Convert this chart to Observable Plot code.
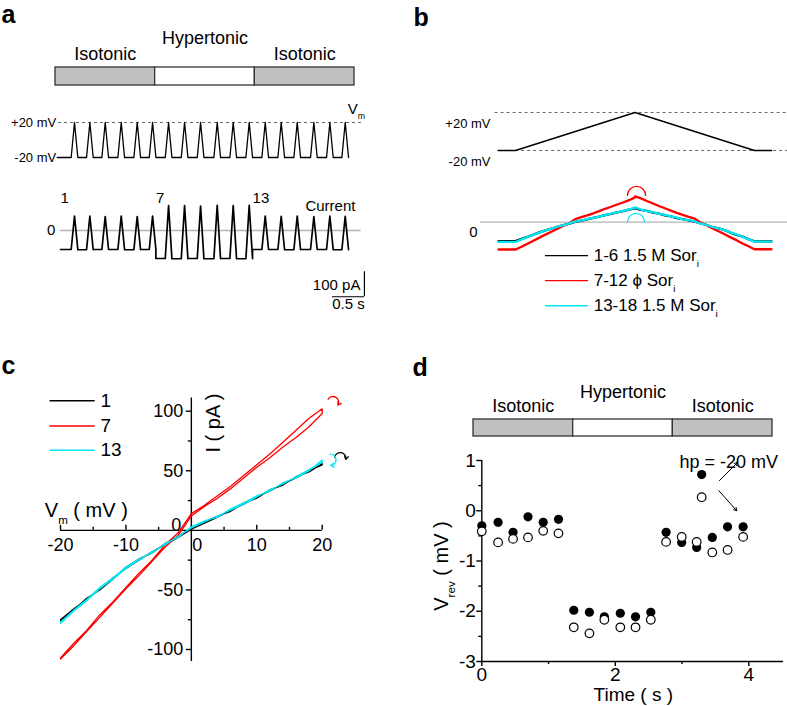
<!DOCTYPE html>
<html><head><meta charset="utf-8">
<script src="https://cdn.jsdelivr.net/npm/d3@7"></script>
<script src="https://cdn.jsdelivr.net/npm/@observablehq/plot@0.6"></script>
<style>
html,body{margin:0;padding:0;background:#fff;}
#fig{position:relative;width:787px;height:706px;overflow:hidden;}
#fig svg{position:absolute;left:0;top:0;}
</style></head><body><div id="fig"></div>
<script>
// ================= DATA =================
const protocolSegments = ["Isotonic", "Hypertonic", "Isotonic"];
const protocolFills = ["#c0c0c0", "#ffffff", "#c0c0c0"];

// panel a: 18 sweeps (peak times in s)
const sweepNumbers = [1,2,3,4,5,6,7,8,9,10,11,12,13,14,15,16,17,18];
const sweepPeakTimes = [0, 0.24, 0.48, 0.73, 0.98, 1.22, 1.47, 1.72, 1.97, 2.23, 2.48, 2.73, 2.98, 3.23, 3.48, 3.74, 3.99, 4.23];
const sweepBaseCurrent = [-76, -77, -76, -76, -77, -76, -112, -113, -112, -113, -112, -113, -76, -76, -77, -76, -76, -77];
const sweepPeakCurrent = [58, 58, 56, 58, 56, 58, 100, 100, 98, 101, 100, 101, 58, 57, 58, 56, 58, 57];
const labeledSweeps = [1, 7, 13];
const pulseHalfWidth = 0.052;   // s
const vmTraceStart = -0.27, currentTraceStart = -0.22;  // s
const scaleBarCurrent = 100, scaleBarTime = 0.5;

// panel b: ramp protocol
const rampTimes = [0, 10, 80, 150, 160];      // ms
const rampVoltages = [-20, -20, 20, -20, -20]; // mV

// panel c: I-V curves (pA) at these voltages, up-ramp and down-ramp branches
const ivVoltages = [-20, -18, -16, -14, -12, -10, -8, -6, -4, -2, 0, 2, 4, 6, 8, 10, 12, 14, 16, 18, 20];
const iv1Up    = [-75, -66, -58, -49, -40, -32, -25, -18, -12, -6, 1, 6, 11, 17, 22, 28, 33, 39, 44, 50, 55];
const iv1Down  = [-76, -67, -57, -50, -41, -31, -24, -19, -11, -5, 2, 7, 12, 16, 23, 27, 34, 38, 45, 49, 56];
const iv7Up    = [-108, -97, -85, -73, -61, -49, -38, -26, -14, -4, 12, 20, 27, 35, 44, 53, 61, 70, 78, 87, 98];
const iv7Down  = [-107, -95, -84, -71, -60, -48, -36, -25, -12, -2, 14, 21, 29, 37, 46, 55, 64, 74, 84, 94, 102];
const iv13Up   = [-78, -68, -59, -49, -41, -32, -25, -18, -12, -5, 2, 7, 12, 17, 22, 28, 34, 39, 45, 51, 57];
const iv13Down = [-77, -67, -58, -48, -40, -31, -24, -19, -11, -6, 3, 8, 11, 18, 23, 29, 33, 40, 44, 50, 59];
const sweepLabels = ["1", "7", "13"];
const groupLabels = ["1-6 1.5 M Sor_{i}", "7-12 \u03d5 Sor_{i}", "13-18 1.5 M Sor_{i}"];
const seriesColors = ["#000000", "#ff0000", "#00e8f4"];

// panel d: reversal potential vs time
const dTimes  = [0, 0.244, 0.468, 0.692, 0.920, 1.149, 1.378, 1.612, 1.836, 2.075, 2.303, 2.532, 2.761, 2.995, 3.219, 3.453, 3.682, 3.915];
const dFilled = [-0.30, -0.23, -0.43, -0.12, -0.23, -0.17, -1.98, -2.02, -2.11, -2.04, -2.11, -2.02, -0.43, -0.63, -0.73, -0.53, -0.32, -0.32];
const dOpen   = [-0.41, -0.63, -0.56, -0.53, -0.40, -0.45, -2.32, -2.44, -2.17, -2.32, -2.32, -2.17, -0.62, -0.52, -0.62, -0.83, -0.78, -0.52];
const hpTime = 3.294, hpFilled = 0.72, hpOpen = 0.27;

// tick values
const cXTicks = [-20, -10, 0, 10, 20], cXMinor = [-15, -5, 5, 15];
const cYTicks = [100, 50, 0, -50, -100], cYMajor = [100, 50, -50, -100], cYMinor = [75, 25, -25, -75];
const dXTicks = [0, 2, 4], dXMinor = [1, 3];
const dYTicks = [1, 0, -1, -2, -3], dYMinor = [0.5, -0.5, -1.5, -2.5];

// ================= HELPERS =================
const FONT = '"Liberation Sans", Arial, Helvetica, sans-serif';
const W = 787, H = 706;
const fig = document.getElementById("fig");
const NS = "http://www.w3.org/2000/svg";
function addSubscripts(svg) {
  for (const t of svg.querySelectorAll("text")) {
    if (t.children.length) continue;
    const m = t.textContent.match(/^(.*?)_\{(.+?)\}(.*)$/);
    if (!m) continue;
    t.textContent = "";
    const a = document.createElementNS(NS, "tspan"); a.textContent = m[1];
    const b = document.createElementNS(NS, "tspan"); b.textContent = m[2];
    b.setAttribute("font-size", "58%"); b.setAttribute("dy", "0.6em");
    t.append(a, b);
    if (m[3]) { const c = document.createElementNS(NS, "tspan"); c.textContent = m[3]; c.setAttribute("dy", "-0.35em"); t.append(c); }
  }
}
function layer(x, y, marks) {
  const svg = Plot.plot({
    width: W, height: H, margin: 0,
    x: x ? {...x, axis: null} : undefined,
    y: y ? {...y, axis: null} : undefined,
    color: {type: "identity"},
    style: `background:transparent;overflow:visible;font-family:${FONT};`,
    marks
  });
  addSubscripts(svg);
  fig.append(svg);
}
const vHold = d3.min(rampVoltages), vTop = d3.max(rampVoltages);
const dash = {stroke: "#6a6a6a", strokeWidth: 1, strokeDasharray: "3,3"};
const zeroLine = {stroke: "#b4b4b4", strokeWidth: 1.3};
const axisStyle = {stroke: "#000", strokeWidth: 1.4};

// ================= PANEL LETTERS =================
layer(null, null, [
  Plot.text(["a"], {frameAnchor: "top-left", dx: 1, dy: 22, lineAnchor: "bottom", textAnchor: "start", fontSize: 25, fontWeight: "bold"}),
  Plot.text(["b"], {frameAnchor: "top-left", dx: 413, dy: 25, lineAnchor: "bottom", textAnchor: "start", fontSize: 25, fontWeight: "bold"}),
  Plot.text(["c"], {frameAnchor: "top-left", dx: 1, dy: 373, lineAnchor: "bottom", textAnchor: "start", fontSize: 25, fontWeight: "bold"}),
  Plot.text(["d"], {frameAnchor: "top-left", dx: 412, dy: 375, lineAnchor: "bottom", textAnchor: "start", fontSize: 25, fontWeight: "bold"})
]);

// ================= PROTOCOL BARS (a and d) =================
function protocolBar(xr, yr, hyperDy) {
  const segs = protocolSegments.map((s, i) => ({s, i, fill: protocolFills[i]}));
  layer({domain: [0, 3], range: xr}, {domain: [0, 1], range: yr}, [
    Plot.rect(segs, {x1: "i", x2: d => d.i + 1, y1: 0, y2: 1, fill: "fill", stroke: "#333", strokeWidth: 1.3}),
    Plot.text(segs.filter(d => d.s === "Isotonic"), {x: d => d.i + 0.5, y: 1, text: "s", lineAnchor: "bottom", fontSize: 18, dy: -8}),
    Plot.text(segs.filter(d => d.s !== "Isotonic"), {x: d => d.i + 0.5, y: 1, text: "s", lineAnchor: "bottom", fontSize: 18, dy: hyperDy})
  ]);
}
protocolBar([55, 354], [85, 67], -24);
protocolBar([473, 772], [436, 419], -22);

// ================= PANEL a =================
const aX = {domain: [0, 4.5], range: [74, 362]};
const vmTrace = [{t: vmTraceStart, v: vHold}];
sweepPeakTimes.forEach(tp => vmTrace.push({t: tp - pulseHalfWidth, v: vHold}, {t: tp, v: vTop}, {t: tp + pulseHalfWidth, v: vHold}));
layer(aX, {domain: [-20, 20], range: [157, 122]}, [
  Plot.ruleY([vTop], {x1: vmTraceStart + 0.02, x2: 4.5, ...dash}),
  Plot.line(vmTrace, {x: "t", y: "v", stroke: "#000", strokeWidth: 1.3}),
  Plot.text(["+20 mV", "-20 mV"], {x: vmTraceStart, y: [vTop, vHold], textAnchor: "end", lineAnchor: "middle", dx: -1, fontSize: 13}),
  Plot.text(["V_{m}"], {x: 4.27, y: 30, textAnchor: "start", lineAnchor: "bottom", fontSize: 15})
]);

const curTrace = [{t: currentTraceStart, i: sweepBaseCurrent[0]}];
sweepPeakTimes.forEach((tp, k) => {
  if (k > 0) curTrace.push({t: sweepPeakTimes[k - 1] + pulseHalfWidth, i: sweepBaseCurrent[k]});
  curTrace.push({t: tp - pulseHalfWidth, i: sweepBaseCurrent[k]}, {t: tp, i: sweepPeakCurrent[k]}, {t: tp + pulseHalfWidth, i: sweepBaseCurrent[k]});
});
const sweepStart = n => n === 1 ? currentTraceStart : sweepPeakTimes[n - 2] + pulseHalfWidth;
const barT = 4.53, barI = -265;
layer(aX, {domain: [0, 100], range: [230, 205]}, [
  Plot.ruleY([0], {x1: currentTraceStart, x2: 4.48, ...zeroLine}),
  Plot.line(curTrace, {x: "t", y: "i", stroke: "#000", strokeWidth: 1.7}),
  Plot.text(["0"], {x: currentTraceStart, y: 0, dx: -5, textAnchor: "end", lineAnchor: "middle", fontSize: 15}),
  Plot.text(labeledSweeps, {x: d => sweepStart(d), y: 112, text: d => String(d), textAnchor: "start", lineAnchor: "bottom", fontSize: 15}),
  Plot.text(["Current"], {x: 4.39, y: 80, textAnchor: "end", lineAnchor: "bottom", fontSize: 15}),
  Plot.ruleX([barT], {y1: barI, y2: barI + scaleBarCurrent, stroke: "#000", strokeWidth: 1.2}),
  Plot.ruleY([barI], {x1: barT - scaleBarTime, x2: barT, stroke: "#000", strokeWidth: 1.2}),
  Plot.text(["100 pA"], {x: barT, y: barI + scaleBarCurrent / 2 - 2, dx: -4, textAnchor: "end", lineAnchor: "middle", fontSize: 15}),
  Plot.text(["0.5 s"], {x: barT - scaleBarTime / 2, y: barI, dy: 2, textAnchor: "middle", lineAnchor: "top", fontSize: 15})
]);

// ================= PANEL b =================
const bX = {domain: [0, 160], range: [498, 771]};
const rampLine = rampTimes.map((t, j) => ({t, v: rampVoltages[j]}));
layer(bX, {domain: [-20, 20], range: [150, 112]}, [
  Plot.ruleY([vTop], {x1: -2, x2: 169.4, ...dash}),
  Plot.ruleY([vHold], {x1: -0.5, x2: 169.4, ...dash}),
  Plot.line(rampLine, {x: "t", y: "v", stroke: "#000", strokeWidth: 1.4}),
  Plot.text(["+20 mV", "-20 mV"], {x: 0, y: [vTop, vHold], dx: -8, dy: 15, textAnchor: "end", lineAnchor: "bottom", fontSize: 13})
]);
const upT = d3.scaleLinear([rampVoltages[1], rampVoltages[2]], [rampTimes[1], rampTimes[2]]);
const downT = d3.scaleLinear([rampVoltages[2], rampVoltages[3]], [rampTimes[2], rampTimes[3]]);
const ivSets = [[iv1Up, iv1Down], [iv7Up, iv7Down], [iv13Up, iv13Down]];
function rampCurrent(up, down) {
  const pts = [{t: rampTimes[0], i: up[0]}];
  ivVoltages.forEach((v, j) => pts.push({t: upT(v), i: up[j]}));
  for (let j = ivVoltages.length - 1; j >= 0; j--) pts.push({t: downT(ivVoltages[j]), i: down[j]});
  pts.push({t: rampTimes[4], i: down[0]});
  return pts;
}
const bArcs = [{t1: 75.6, t2: 86.2, i: 106, c: seriesColors[1]}, {t1: 75.6, t2: 85.6, i: 1, c: seriesColors[2]}];
const bLegendRows = [-132, -231, -330];
layer(bX, {domain: [0, 100], range: [221.7, 196.4]}, [
  Plot.ruleY([0], {x1: -10.5, x2: 169.4, ...zeroLine}),
  ...ivSets.map(([u, d], k) => Plot.line(rampCurrent(u, d), {x: "t", y: "i", stroke: seriesColors[k], strokeWidth: 2.3})),
  Plot.arrow(bArcs, {x1: "t1", x2: "t2", y1: "i", y2: "i", bend: 90, headLength: 0, stroke: "c", strokeWidth: 1.3}),
  Plot.text(["0"], {x: 0, y: 0, dx: -21, dy: 15, textAnchor: "end", lineAnchor: "bottom", fontSize: 15}),
  ...groupLabels.map((g, k) => Plot.ruleY([bLegendRows[k]], {x1: 27.5, x2: 52.8, stroke: seriesColors[k], strokeWidth: 1.4})),
  Plot.text(groupLabels, {x: 55.8, y: bLegendRows, textAnchor: "start", lineAnchor: "middle", fontSize: 17})
]);

// ================= PANEL c =================
const cX = {domain: [-20, 20], range: [60, 321.7]};
const cY = {domain: [-100, 100], range: [649, 410.7]};
function ivLoop(up, down) {
  const pts = ivVoltages.map((v, j) => ({v, i: up[j]}));
  for (let j = ivVoltages.length - 1; j >= 0; j--) pts.push({v: ivVoltages[j], i: down[j]});
  return pts;
}
const cHooks = [
  {x1: 20.9, y1: 110, x2: 22.4, y2: 105, c: seriesColors[1]},
  {x1: 21.9, y1: 61.5, x2: 23.6, y2: 59.5, c: seriesColors[0]},
  {x1: 21.2, y1: 64, x2: 21.3, y2: 54.5, c: seriesColors[2]}
];
const cLegendRows = [108.7, 87.6, 67.2];
layer(cX, cY, [
  Plot.ruleY([0], {x1: -20, x2: 20, ...axisStyle}),
  Plot.ruleX([0], {y1: -110, y2: 111, ...axisStyle}),
  Plot.ruleX(cXTicks, {y1: 0, y2: 0, insetTop: -5, ...axisStyle}),
  Plot.ruleX(cXMinor, {y1: 0, y2: 0, insetTop: -3, ...axisStyle}),
  Plot.ruleY(cYMajor, {x1: 0, x2: 0, insetLeft: -5, ...axisStyle}),
  Plot.ruleY(cYMinor, {x1: 0, x2: 0, insetLeft: -3, ...axisStyle}),
  Plot.text(cXTicks.filter(d => d !== 0), {x: d => d, y: 0, dy: 8, text: d => String(d), lineAnchor: "top", fontSize: 18}),
  Plot.text([0], {x: 0, y: 0, dx: 6, dy: 8, text: d => String(d), lineAnchor: "top", fontSize: 18}),
  Plot.text(cYTicks.filter(d => d !== 0), {x: 0, y: d => d, dx: -8, text: d => String(d), textAnchor: "end", lineAnchor: "middle", fontSize: 18}),
  Plot.text([0], {x: 0, y: 0, dx: -10, dy: -5, text: d => String(d), textAnchor: "end", lineAnchor: "middle", fontSize: 18}),
  ...ivSets.map(([u, d], k) => Plot.line(ivLoop(u, d), {x: "v", y: "i", stroke: seriesColors[k], strokeWidth: 1.3})),
  Plot.arrow(cHooks, {x1: "x1", y1: "y1", x2: "x2", y2: "y2", bend: 90, headLength: 5, stroke: "c", strokeWidth: 1.3}),
  Plot.text(["I ( pA )"], {x: 3.4, y: 90, rotate: -90, textAnchor: "middle", lineAnchor: "middle", fontSize: 20}),
  Plot.text(["V_{m} ( mV )"], {x: -22.4, y: 11, textAnchor: "start", lineAnchor: "bottom", fontSize: 20}),
  ...sweepLabels.map((s, k) => Plot.ruleY([cLegendRows[k]], {x1: -21.6, x2: -14.7, stroke: seriesColors[k], strokeWidth: 1.5})),
  Plot.text(sweepLabels, {x: -13.9, y: cLegendRows, textAnchor: "start", lineAnchor: "middle", fontSize: 19})
]);

// ================= PANEL d =================
const dX = {domain: [0, 4], range: [481.3, 748.3]};
const dY = {domain: [-3, 1], range: [661, 460]};
const filledPts = dTimes.map((t, k) => ({t, v: dFilled[k]})).concat([{t: hpTime, v: hpFilled}]);
const openPts = dTimes.map((t, k) => ({t, v: dOpen[k]})).concat([{t: hpTime, v: hpOpen}]);
const hpArrows = [{x1: 3.56, y1: 0.60, x2: 3.83, y2: 0.96}, {x1: 3.55, y1: 0.40, x2: 3.82, y2: 0.0}];
layer(dX, dY, [
  Plot.ruleY([-3], {x1: 0, x2: 4.52, ...axisStyle}),
  Plot.ruleX([0], {y1: -3, y2: 1, ...axisStyle}),
  Plot.ruleX(dXTicks, {y1: -3, y2: -3, insetBottom: -5, ...axisStyle}),
  Plot.ruleX(dXMinor, {y1: -3, y2: -3, insetBottom: -3, ...axisStyle}),
  Plot.ruleY(dYTicks, {x1: 0, x2: 0, insetLeft: -5, ...axisStyle}),
  Plot.ruleY(dYMinor, {x1: 0, x2: 0, insetLeft: -3, ...axisStyle}),
  Plot.text(dXTicks, {x: d => d, y: -3, dy: 6, text: d => String(d), lineAnchor: "top", fontSize: 19}),
  Plot.text(dYTicks, {x: 0, y: d => d, dx: -6, text: d => String(d), textAnchor: "end", lineAnchor: "middle", fontSize: 19}),
  Plot.dot(filledPts, {x: "t", y: "v", r: 4.6, fill: "#000"}),
  Plot.dot(openPts, {x: "t", y: "v", r: 4.3, fill: "#fff", stroke: "#000", strokeWidth: 1.2}),
  Plot.arrow(hpArrows, {x1: "x1", y1: "y1", x2: "x2", y2: "y2", headLength: 5, stroke: "#000", strokeWidth: 1}),
  Plot.text(["hp = -20 mV"], {x: 3.70, y: 0.857, textAnchor: "middle", lineAnchor: "bottom", fontSize: 18}),
  Plot.text(["Time ( s )"], {x: 2.27, y: -3.78, textAnchor: "middle", lineAnchor: "bottom", fontSize: 19}),
  Plot.text(["V_{rev} ( mV )"], {x: -0.60, y: -1.1, rotate: -90, textAnchor: "middle", lineAnchor: "middle", fontSize: 20})
]);
</script></body></html>
